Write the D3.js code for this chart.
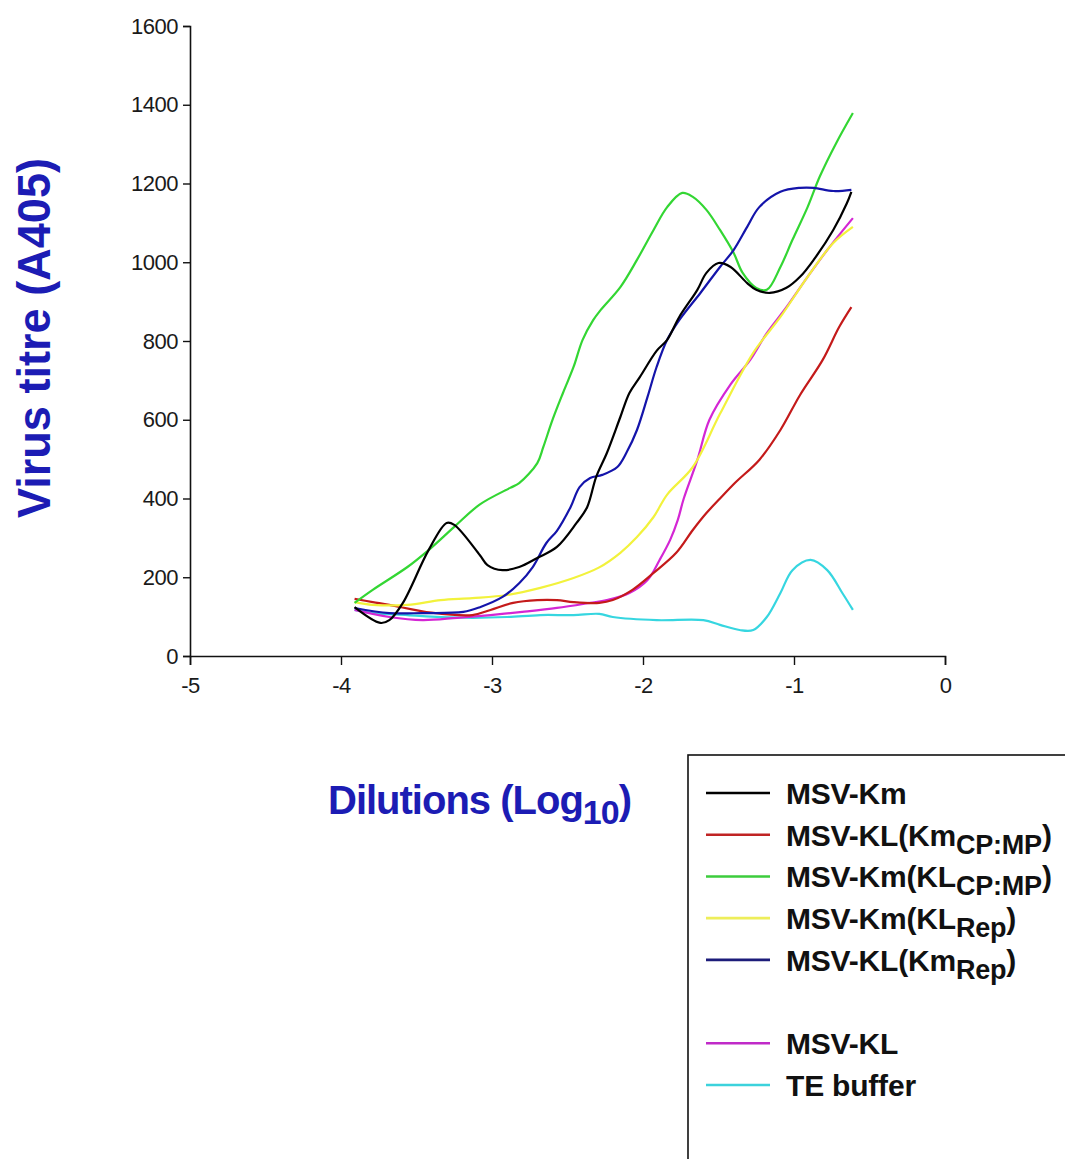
<!DOCTYPE html>
<html>
<head>
<meta charset="utf-8">
<script src="https://cdnjs.cloudflare.com/ajax/libs/d3/7.8.5/d3.min.js"></script>
<style>
  html, body { margin: 0; padding: 0; background: #fff; }
  svg { display: block; }
</style>
</head>
<body>
<svg id="chart" width="1065" height="1159"></svg>
<script>
// ---- Data ----
const xTicks = [-5, -4, -3, -2, -1, 0];
const yTicks = [0, 200, 400, 600, 800, 1000, 1200, 1400, 1600];

const msvKm = [[-3.91,124],[-3.74,84],[-3.68,91],[-3.59,135],[-3.42,269],[-3.30,338],[-3.25,333],[-3.08,256],[-3.03,231],[-2.93,218],[-2.82,226],[-2.70,249],[-2.57,277],[-2.44,338],[-2.37,378],[-2.31,455],[-2.24,515],[-2.15,607],[-2.09,668],[-2.02,709],[-1.91,775],[-1.84,803],[-1.76,861],[-1.64,930],[-1.58,973],[-1.50,998],[-1.42,988],[-1.31,947],[-1.25,930],[-1.16,922],[-1.05,935],[-0.96,963],[-0.87,1006],[-0.74,1082],[-0.65,1150],[-0.62,1179]];
const msvKLKmCPMP = [[-3.91,145],[-3.79,137],[-3.68,130],[-3.40,110],[-3.13,104],[-3.01,117],[-2.86,135],[-2.70,142],[-2.57,142],[-2.46,137],[-2.29,135],[-2.20,142],[-2.07,168],[-1.93,211],[-1.78,262],[-1.67,320],[-1.58,363],[-1.49,400],[-1.39,440],[-1.23,498],[-1.09,574],[-0.96,663],[-0.81,752],[-0.70,836],[-0.62,886]];
const msvKmKLCPMP = [[-3.91,135],[-3.79,168],[-3.56,226],[-3.42,269],[-3.25,328],[-3.08,385],[-2.88,427],[-2.82,439],[-2.70,490],[-2.66,531],[-2.60,599],[-2.53,668],[-2.46,734],[-2.40,803],[-2.33,853],[-2.28,879],[-2.15,937],[-2.04,1006],[-1.93,1082],[-1.84,1140],[-1.74,1176],[-1.67,1166],[-1.58,1133],[-1.49,1082],[-1.40,1024],[-1.34,973],[-1.25,935],[-1.18,930],[-1.09,988],[-1.01,1057],[-0.91,1140],[-0.83,1217],[-0.72,1303],[-0.61,1379]];
const msvKmKLRep = [[-3.91,137],[-3.79,130],[-3.56,130],[-3.34,142],[-3.13,147],[-2.90,155],[-2.68,173],[-2.46,198],[-2.29,225],[-2.15,262],[-2.04,302],[-1.93,353],[-1.84,410],[-1.67,480],[-1.49,615],[-1.27,770],[-1.09,861],[-0.91,963],[-0.74,1049],[-0.61,1090]];
const msvKLKmRep = [[-3.91,122],[-3.68,109],[-3.46,109],[-3.19,112],[-3.08,124],[-2.93,150],[-2.82,185],[-2.73,226],[-2.64,287],[-2.57,318],[-2.48,378],[-2.42,429],[-2.35,452],[-2.27,460],[-2.17,480],[-2.11,516],[-2.04,574],[-1.97,658],[-1.91,734],[-1.84,803],[-1.76,853],[-1.62,922],[-1.49,988],[-1.40,1031],[-1.31,1090],[-1.23,1140],[-1.09,1179],[-0.96,1189],[-0.87,1189],[-0.74,1181],[-0.62,1184]];
const msvKL = [[-3.91,117],[-3.68,99],[-3.46,91],[-3.23,97],[-3.01,104],[-2.80,112],[-2.57,122],[-2.35,135],[-2.24,142],[-2.09,160],[-1.97,193],[-1.89,244],[-1.82,295],[-1.77,345],[-1.73,400],[-1.64,498],[-1.56,600],[-1.42,690],[-1.29,752],[-1.18,820],[-1.05,886],[-0.91,963],[-0.78,1031],[-0.61,1112]];
const teBuffer = [[-3.91,117],[-3.79,109],[-3.56,104],[-3.34,99],[-3.13,97],[-2.90,99],[-2.68,104],[-2.46,104],[-2.29,107],[-2.20,99],[-1.91,91],[-1.60,91],[-1.49,79],[-1.36,66],[-1.27,66],[-1.18,99],[-1.09,160],[-1.01,218],[-0.89,244],[-0.78,218],[-0.68,160],[-0.61,117]];

const seriesNames = [
  {main: "MSV-Km", sub: "", tail: ""},
  {main: "MSV-KL(Km", sub: "CP:MP", tail: ")"},
  {main: "MSV-Km(KL", sub: "CP:MP", tail: ")"},
  {main: "MSV-Km(KL", sub: "Rep", tail: ")"},
  {main: "MSV-KL(Km", sub: "Rep", tail: ")"},
  {main: "MSV-KL", sub: "", tail: ""},
  {main: "TE buffer", sub: "", tail: ""}
];
const seriesData = [msvKm, msvKLKmCPMP, msvKmKLCPMP, msvKmKLRep, msvKLKmRep, msvKL, teBuffer];
const lineColors = ["#000000", "#c41a1a", "#33d633", "#f2f23c", "#1414aa", "#d426d4", "#36d6e0"];
const legendColors = ["#000000", "#c02424", "#3ccc3c", "#eeee5a", "#1c1c7a", "#c02ac8", "#3cd2dc"];
const legendSlots = [0, 1, 2, 3, 4, 6, 7];

// ---- Drawing ----
const svg = d3.select("#chart");
const x = d3.scaleLinear().domain([-5, 0]).range([190, 945]);
const y = d3.scaleLinear().domain([0, 1600]).range([656, 26]);
const font = "'Liberation Sans', Arial, sans-serif";

// curves
const line = d3.line().x(d => x(d[0])).y(d => y(d[1])).curve(d3.curveCatmullRom.alpha(0.5));
const order = [6, 5, 1, 3, 2, 4, 0];
order.forEach(i => {
  svg.append("path")
    .attr("d", line(seriesData[i]))
    .attr("fill", "none")
    .attr("stroke", lineColors[i])
    .attr("stroke-width", 2.2)
    .attr("stroke-linejoin", "round");
});

// axes
const yAxis = d3.axisLeft(y).tickValues(yTicks).tickSize(7).tickPadding(5).tickFormat(d3.format("d"));
const xAxis = d3.axisBottom(x).tickValues(xTicks).tickSize(9).tickPadding(12).tickFormat(d3.format("d"));

const gy = svg.append("g").attr("transform", "translate(190,0)").call(yAxis);
const gx = svg.append("g").attr("transform", "translate(0,656)").call(xAxis);
[gx, gy].forEach(g => {
  g.select(".domain").attr("stroke", "#111").attr("stroke-width", 1.6);
  g.selectAll(".tick line").attr("stroke", "#111").attr("stroke-width", 1.4);
  g.selectAll(".tick text")
    .attr("fill", "#1a1a1a")
    .style("font-family", font)
    .style("font-size", "22px")
    .style("letter-spacing", "-0.5px");
});
gx.selectAll(".tick text").text(d => d < 0 ? "-" + Math.abs(d) : d);

// axis titles
svg.append("text")
  .attr("transform", "translate(50,338) rotate(-90)")
  .attr("text-anchor", "middle")
  .attr("fill", "#1c1cb4")
  .attr("textLength", 360)
  .attr("lengthAdjust", "spacingAndGlyphs")
  .style("font-family", font)
  .style("font-weight", "bold")
  .style("font-size", "46px")
  .text("Virus titre (A405)");

const xt = svg.append("text")
  .attr("x", 328).attr("y", 814)
  .attr("fill", "#1c1cb4")
  .style("font-family", font)
  .style("font-weight", "bold")
  .style("font-size", "40px")
  .style("letter-spacing", "-1px");
xt.append("tspan").text("Dilutions (Log");
xt.append("tspan").attr("dy", 10).style("font-size", "34px").text("10");
xt.append("tspan").attr("dy", -10).text(")");

// legend
svg.append("rect")
  .attr("x", 688).attr("y", 755)
  .attr("width", 420).attr("height", 440)
  .attr("fill", "none")
  .attr("stroke", "#111")
  .attr("stroke-width", 1.6);

const legendY = d3.scaleLinear().domain([0, 7]).range([793, 1085]);
seriesNames.forEach((s, i) => {
  const yy = legendY(legendSlots[i]);
  svg.append("line")
    .attr("x1", 706).attr("x2", 770)
    .attr("y1", yy).attr("y2", yy)
    .attr("stroke", legendColors[i])
    .attr("stroke-width", 2.6);
  const t = svg.append("text")
    .attr("x", 786).attr("y", yy + 11)
    .attr("fill", "#111")
    .style("font-family", font)
    .style("font-weight", "bold")
    .style("font-size", "30px")
    .style("letter-spacing", "-0.2px");
  t.append("tspan").text(s.main);
  if (s.sub) {
    t.append("tspan").attr("dy", 8).style("font-size", "27px").text(s.sub);
    t.append("tspan").attr("dy", -8).text(s.tail);
  }
});
</script>
</body>
</html>
